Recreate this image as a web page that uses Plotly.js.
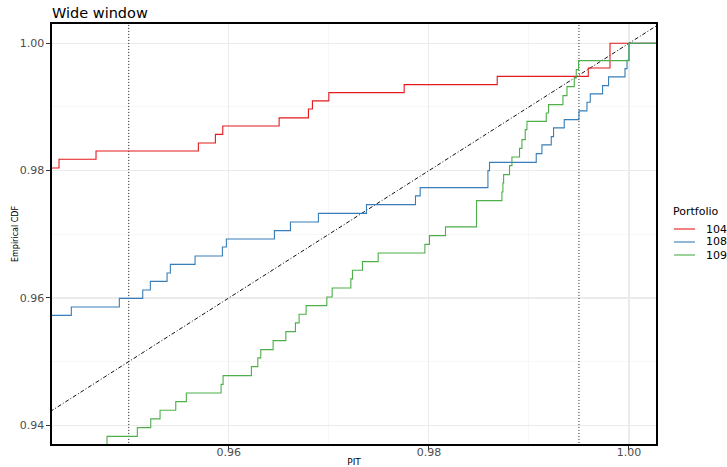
<!DOCTYPE html>
<html><head><meta charset="utf-8">
<script src="https://cdn.plot.ly/plotly-3.0.1.min.js"></script>
<style>html,body{margin:0;padding:0;background:#fff;} #chart{width:727px;height:467px;}</style>
</head><body><div id="chart"></div>
<script>
// ---- data ----
const seriesNames = ['104', '108', '109'];
const seriesColors = ['#E41A1C', '#377EB8', '#4DAF4A'];

// Portfolio 104: jump locations (PIT) and ECDF levels after each jump
const pit104 = [0.94, 0.94303, 0.94673, 0.95696, 0.95866, 0.9594, 0.96503, 0.96796, 0.96836, 0.97, 0.97753, 0.98683, 0.99593, 0.9981, 1.01];
const cdf104 = [0.98042, 0.98178, 0.98309, 0.98435, 0.9857, 0.98702, 0.98828, 0.98969, 0.99095, 0.99225, 0.99351, 0.99481, 0.99613, 1.0, 1.0];

// Portfolio 108
const pit108 = [0.94, 0.94426, 0.94906, 0.9514, 0.95216, 0.95383, 0.95416, 0.95663, 0.95936, 0.95976, 0.96456, 0.96616, 0.96896, 0.97376, 0.97866, 0.97913, 0.9859, 0.98606, 0.99073, 0.9913, 0.99223, 0.99246, 0.99353, 0.995, 0.9958, 0.99613, 0.99736, 0.99796, 0.9996, 0.9998, 1.0, 1.01];
const cdf108 = [0.95727, 0.95859, 0.95994, 0.96126, 0.96261, 0.96393, 0.96528, 0.9666, 0.96801, 0.96927, 0.97057, 0.97194, 0.97329, 0.97466, 0.97603, 0.97733, 0.98, 0.9813, 0.98267, 0.98404, 0.98534, 0.98671, 0.98801, 0.98938, 0.99073, 0.99205, 0.99335, 0.99472, 0.99602, 0.99733, 1.0, 1.0];

// Portfolio 109
const pit109 = [0.94, 0.94783, 0.95086, 0.9522, 0.95313, 0.9547, 0.95576, 0.95923, 0.95943, 0.96226, 0.9629, 0.9632, 0.96443, 0.9657, 0.96666, 0.96703, 0.96773, 0.9698, 0.97033, 0.9722, 0.97236, 0.97336, 0.97493, 0.9796, 0.98006, 0.98166, 0.98476, 0.9873, 0.9874, 0.98747, 0.98806, 0.9883, 0.98906, 0.9893, 0.98963, 0.9898, 0.99173, 0.99196, 0.9934, 0.9938, 0.99453, 0.99473, 0.99496, 1.0, 1.01];
const cdf109 = [0.9369, 0.93826, 0.93963, 0.941, 0.94235, 0.94371, 0.94508, 0.94643, 0.9478, 0.94921, 0.95058, 0.95188, 0.9533, 0.95471, 0.95608, 0.95743, 0.95879, 0.96016, 0.96157, 0.96299, 0.96434, 0.96571, 0.96707, 0.96842, 0.96979, 0.97116, 0.97529, 0.97665, 0.97807, 0.97937, 0.98079, 0.98215, 0.9835, 0.98487, 0.98644, 0.98774, 0.98906, 0.99037, 0.99178, 0.9932, 0.99456, 0.99587, 0.99728, 1.0, 1.0];

// reference diagonal (uniform CDF) and window bounds
const diagX = [0.93, 1.01];
const diagY = [0.93, 1.01];
const windowBounds = [0.95, 0.995];

// axes
const xRange = [0.94233, 1.0027];
const yRange = [0.93706, 1.00303];
const xTickVals = [0.96, 0.98, 1.00];
const xTickText = ['0.96', '0.98', '1.00'];
const yTickVals = [0.94, 0.96, 0.98, 1.00];
const yTickText = ['0.94', '0.96', '0.98', '1.00'];

const titleText = 'Wide window';
const xTitle = 'PIT';
const yTitle = 'Empirical CDF';
const legendTitle = 'Portfolio';

// ---- build ----
const FONT = 'DejaVu Sans, Arial, sans-serif';
const pits = [pit104, pit108, pit109];
const cdfs = [cdf104, cdf108, cdf109];

const traces = [];
windowBounds.forEach(b => {
  traces.push({x: [b, b], y: [0.9, 1.1], mode: 'lines', hoverinfo: 'skip', showlegend: false,
    line: {color: '#222', width: 1, dash: '1px,2px'}});
});
traces.push({x: diagX, y: diagY, mode: 'lines', showlegend: false, hoverinfo: 'skip',
  line: {color: '#111', width: 1, dash: '4px,2px,1px,2px'}});
seriesNames.forEach((n, i) => {
  traces.push({x: pits[i], y: cdfs[i], name: n, mode: 'lines', showlegend: false,
    line: {shape: 'hv', color: seriesColors[i], width: 1.1}});
});

// manual legend (ggplot style), in paper coords
const shapes = [];
const annotations = [];
const legY = [0.5119, 0.481, 0.45];
annotations.push({xref: 'paper', yref: 'paper', x: 1.0243, y: 0.5524, xanchor: 'left', yanchor: 'middle',
  text: legendTitle, showarrow: false, font: {family: FONT, size: 11, color: '#000'}});
seriesNames.forEach((n, i) => {
  shapes.push({type: 'line', xref: 'paper', yref: 'paper', x0: 1.0298, x1: 1.0646, y0: legY[i], y1: legY[i],
    line: {color: seriesColors[i], width: 1.1}});
  annotations.push({xref: 'paper', yref: 'paper', x: 1.0795, y: legY[i], xanchor: 'left', yanchor: 'middle',
    text: n, showarrow: false, font: {family: FONT, size: 11, color: '#000'}});
});

const gridMajor = '#EBEBEB';
const gridMinor = '#F3F3F3';
const layout = {
  width: 727, height: 467,
  margin: {l: 52, r: 71, t: 24, b: 23, pad: 0},
  paper_bgcolor: '#fff', plot_bgcolor: '#fff',
  font: {family: FONT, color: '#4D4D4D'},
  title: {text: titleText, x: 52/727, xref: 'container', xanchor: 'left', y: 1 - 13/467, yref: 'container', yanchor: 'middle',
    font: {family: FONT, size: 14.5, color: '#000'}},
  showlegend: false,
  xaxis: {range: xRange, tickvals: xTickVals, ticktext: xTickText, ticks: 'outside', ticklen: 4, tickwidth: 1, tickcolor: '#333',
    tickfont: {family: FONT, size: 11, color: '#4D4D4D'}, ticklabelstandoff: -7,
    showgrid: true, gridcolor: gridMajor, gridwidth: 1.1, zeroline: false,
    minor: {dtick: 0.01, tick0: 0.95, showgrid: true, gridcolor: gridMinor, gridwidth: 0.7, ticks: ''},
    showline: true, linecolor: '#000', linewidth: 1.6, mirror: true,
    title: {text: xTitle, standoff: 5, font: {family: FONT, size: 9, color: '#000'}}},
  yaxis: {range: yRange, tickvals: yTickVals, ticktext: yTickText, ticks: 'outside', ticklen: 4, tickwidth: 1, tickcolor: '#333',
    tickfont: {family: FONT, size: 11, color: '#4D4D4D'},
    showgrid: true, gridcolor: gridMajor, gridwidth: 1.1, zeroline: false,
    minor: {dtick: 0.01, tick0: 0.95, showgrid: true, gridcolor: gridMinor, gridwidth: 0.7, ticks: ''},
    showline: true, linecolor: '#000', linewidth: 1.6, mirror: true,
    title: {text: yTitle, standoff: 0, font: {family: FONT, size: 8, color: '#000'}}},
  shapes: shapes,
  annotations: annotations
};

Plotly.newPlot('chart', traces, layout, {displayModeBar: false, staticPlot: true});
</script></body></html>
